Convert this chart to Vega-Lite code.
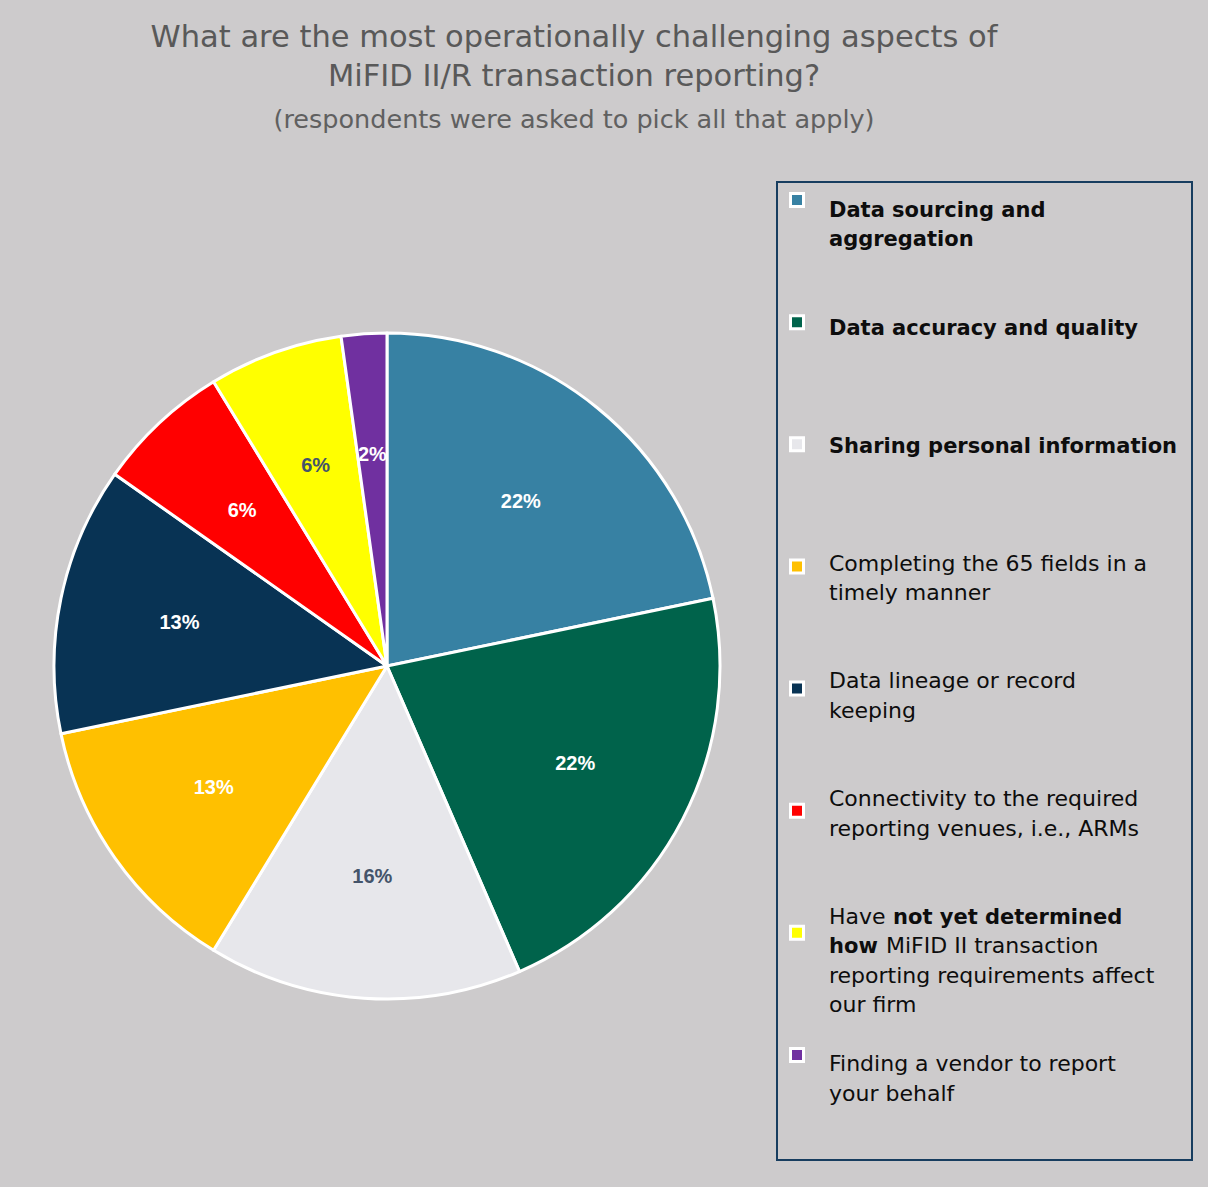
{
  "$schema": "https://vega.github.io/schema/vega-lite/v6.json",
  "background": "#cdcbcc",
  "padding": {"left": 51, "top": 23, "right": 17, "bottom": 27},
  "datasets": {
    "slices": [
      {"rank": 1, "cat": "Data sourcing and aggregation", "share": 21.7, "label": "22%", "lines": ["Data sourcing and", "aggregation"]},
      {"rank": 2, "cat": "Data accuracy and quality", "share": 21.7, "label": "22%", "lines": ["Data accuracy and quality"]},
      {"rank": 3, "cat": "Sharing personal information", "share": 15.2, "label": "16%", "lines": ["Sharing personal information"]},
      {"rank": 4, "cat": "Completing the 65 fields in a timely manner", "share": 13.0, "label": "13%", "lines": ["Completing the 65 fields in a", "timely manner"]},
      {"rank": 5, "cat": "Data lineage or record keeping", "share": 13.0, "label": "13%", "lines": ["Data lineage or record", "keeping"]},
      {"rank": 6, "cat": "Connectivity to the required reporting venues, i.e., ARMs", "share": 6.5, "label": "6%", "lines": ["Connectivity to the required", "reporting venues, i.e., ARMs"]},
      {"rank": 7, "cat": "Have not yet determined how MiFID II transaction reporting requirements affect our firm", "share": 6.5, "label": "6%", "lines": ["Have"], "bold1": "not yet determined", "bold2": "how", "rest2": "MiFID II transaction", "tail": ["reporting requirements affect", "our firm"]},
      {"rank": 8, "cat": "Finding a vendor to report your behalf", "share": 2.2, "label": "2%", "lines": ["Finding a vendor to report", "your behalf"]}
    ]
  },
  "title": {
    "text": ["What are the most operationally challenging aspects of", "MiFID II/R transaction reporting?"],
    "subtitle": "(respondents were asked to pick all that apply)",
    "anchor": "middle",
    "dx": -48,
    "font": "DejaVu Sans",
    "fontSize": 30.5,
    "fontWeight": "normal",
    "color": "#595959",
    "lineHeight": 39,
    "subtitleFont": "DejaVu Sans",
    "subtitleFontSize": 25.5,
    "subtitleColor": "#606060",
    "subtitlePadding": 15,
    "offset": 48
  },
  "spacing": 53,
  "hconcat": [
    {
      "width": 672,
      "height": 968,
      "data": {"name": "slices"},
      "view": {"stroke": null},
      "layer": [
        {
          "mark": {"type": "arc", "outerRadius": 333, "stroke": "white", "strokeWidth": 3, "strokeJoin": "round"},
          "encoding": {
            "theta": {"field": "share", "type": "quantitative", "stack": true},
            "order": {"field": "rank", "type": "quantitative"},
            "color": {
              "field": "cat", "type": "nominal", "legend": null,
              "scale": {
                "domain": ["Data sourcing and aggregation", "Data accuracy and quality", "Sharing personal information", "Completing the 65 fields in a timely manner", "Data lineage or record keeping", "Connectivity to the required reporting venues, i.e., ARMs", "Have not yet determined how MiFID II transaction reporting requirements affect our firm", "Finding a vendor to report your behalf"],
                "range": ["#3781a3", "#00634b", "#e7e7eb", "#ffc000", "#083354", "#ff0000", "#ffff00", "#7030a0"]
              }
            }
          }
        },
        {
          "mark": {"type": "text", "radius": 212, "font": "Liberation Sans", "fontSize": 20, "fontWeight": "bold"},
          "encoding": {
            "theta": {"field": "share", "type": "quantitative", "stack": true},
            "order": {"field": "rank", "type": "quantitative"},
            "text": {"field": "label", "type": "nominal"},
            "color": {"condition": {"test": "datum.rank == 3 || datum.rank == 7", "value": "#44546a"}, "value": "#ffffff"}
          }
        }
      ]
    },
    {
      "width": 415,
      "height": 978,
      "data": {"name": "slices"},
      "view": {"stroke": "#173d5f", "strokeWidth": 2},
      "resolve": {"scale": {"y": "independent"}},
      "layer": [
        {
          "mark": {"type": "point", "shape": "square", "filled": true, "size": 169, "stroke": "white", "strokeWidth": 3, "opacity": 1},
          "encoding": {
            "x": {"value": 20},
            "y": {"field": "rank", "type": "quantitative", "axis": null, "scale": {"domain": [0.8526, 8.86], "reverse": true, "zero": false, "nice": false}},
            "color": {
              "field": "cat", "type": "nominal", "legend": null,
              "scale": {
                "domain": ["Data sourcing and aggregation", "Data accuracy and quality", "Sharing personal information", "Completing the 65 fields in a timely manner", "Data lineage or record keeping", "Connectivity to the required reporting venues, i.e., ARMs", "Have not yet determined how MiFID II transaction reporting requirements affect our firm", "Finding a vendor to report your behalf"],
                "range": ["#3781a3", "#00634b", "#e7e7eb", "#ffc000", "#083354", "#ff0000", "#ffff00", "#7030a0"]
              }
            }
          }
        },
        {
          "transform": [{"filter": "datum.rank <= 3"}],
          "mark": {"type": "text", "align": "left", "baseline": "top", "font": "DejaVu Sans", "fontSize": 21, "fontWeight": "bold", "lineHeight": 29.4, "color": "#0d0d0d"},
          "encoding": {
            "x": {"value": 52},
            "y": {"field": "rank", "type": "quantitative", "axis": null, "scale": {"domain": [0.8463, 9.148], "reverse": true, "zero": false, "nice": false}},
            "text": {"field": "lines"}
          }
        },
        {
          "transform": [{"filter": "datum.rank >= 4 && datum.rank <= 7"}],
          "mark": {"type": "text", "align": "left", "baseline": "top", "font": "DejaVu Sans", "fontSize": 22, "lineHeight": 29.4, "color": "#0d0d0d"},
          "encoding": {
            "x": {"value": 52},
            "y": {"field": "rank", "type": "quantitative", "axis": null, "scale": {"domain": [0.8463, 9.148], "reverse": true, "zero": false, "nice": false}},
            "text": {"field": "lines"}
          }
        },
        {
          "transform": [{"filter": "datum.rank == 8"}],
          "mark": {"type": "text", "align": "left", "baseline": "top", "font": "DejaVu Sans", "fontSize": 22, "lineHeight": 29.4, "dy": 29.4, "color": "#0d0d0d"},
          "encoding": {
            "x": {"value": 52},
            "y": {"field": "rank", "type": "quantitative", "axis": null, "scale": {"domain": [0.8463, 9.148], "reverse": true, "zero": false, "nice": false}},
            "text": {"field": "lines"}
          }
        },
        {
          "transform": [{"filter": "datum.rank == 7"}],
          "mark": {"type": "text", "align": "left", "baseline": "top", "font": "DejaVu Sans", "fontSize": 21, "fontWeight": "bold", "dx": 64, "color": "#0d0d0d"},
          "encoding": {
            "x": {"value": 52},
            "y": {"field": "rank", "type": "quantitative", "axis": null, "scale": {"domain": [0.8463, 9.148], "reverse": true, "zero": false, "nice": false}},
            "text": {"field": "bold1"}
          }
        },
        {
          "transform": [{"filter": "datum.rank == 7"}],
          "mark": {"type": "text", "align": "left", "baseline": "top", "font": "DejaVu Sans", "fontSize": 21, "fontWeight": "bold", "dy": 29.4, "color": "#0d0d0d"},
          "encoding": {
            "x": {"value": 52},
            "y": {"field": "rank", "type": "quantitative", "axis": null, "scale": {"domain": [0.8463, 9.148], "reverse": true, "zero": false, "nice": false}},
            "text": {"field": "bold2"}
          }
        },
        {
          "transform": [{"filter": "datum.rank == 7"}],
          "mark": {"type": "text", "align": "left", "baseline": "top", "font": "DejaVu Sans", "fontSize": 22, "dx": 57, "dy": 29.4, "color": "#0d0d0d"},
          "encoding": {
            "x": {"value": 52},
            "y": {"field": "rank", "type": "quantitative", "axis": null, "scale": {"domain": [0.8463, 9.148], "reverse": true, "zero": false, "nice": false}},
            "text": {"field": "rest2"}
          }
        },
        {
          "transform": [{"filter": "datum.rank == 7"}],
          "mark": {"type": "text", "align": "left", "baseline": "top", "font": "DejaVu Sans", "fontSize": 22, "lineHeight": 29.4, "dy": 58.8, "color": "#0d0d0d"},
          "encoding": {
            "x": {"value": 52},
            "y": {"field": "rank", "type": "quantitative", "axis": null, "scale": {"domain": [0.8463, 9.148], "reverse": true, "zero": false, "nice": false}},
            "text": {"field": "tail"}
          }
        }
      ]
    }
  ]
}
